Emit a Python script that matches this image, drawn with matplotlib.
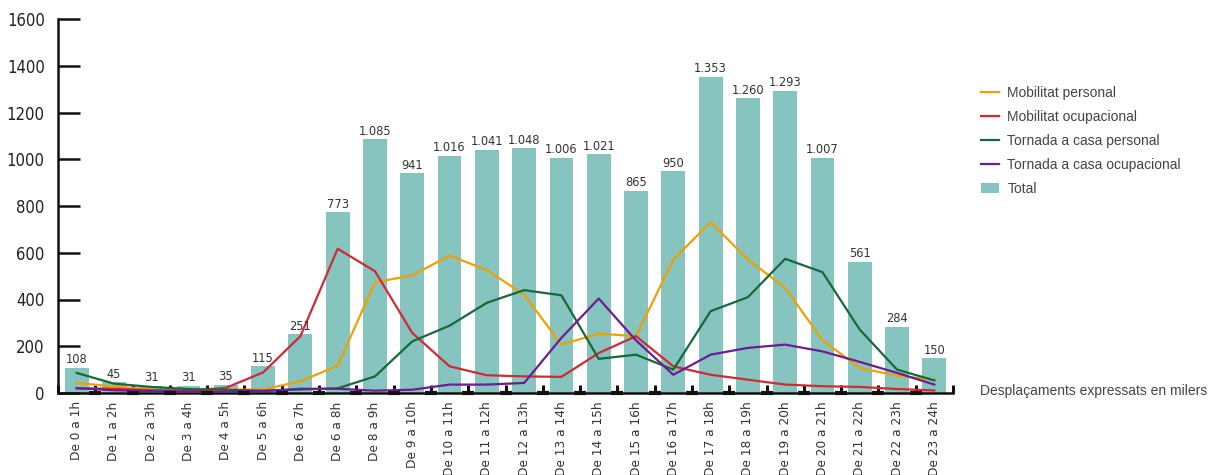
import matplotlib
matplotlib.use("Agg")
import matplotlib.pyplot as plt
import numpy as np
from matplotlib.patches import Patch
from matplotlib.lines import Line2D

categories = ["De 0 a 1h", "De 1 a 2h", "De 2 a 3h", "De 3 a 4h", "De 4 a 5h", "De 5 a 6h",
              "De 6 a 7h", "De 6 a 8h", "De 8 a 9h", "De 9 a 10h", "De 10 a 11h", "De 11 a 12h",
              "De 12 a 13h", "De 13 a 14h", "De 14 a 15h", "De 15 a 16h", "De 16 a 17h",
              "De 17 a 18h", "De 18 a 19h", "De 19 a 20h", "De 20 a 21h", "De 21 a 22h",
              "De 22 a 23h", "De 23 a 24h"]
total = [108, 45, 31, 31, 35, 115, 251, 773, 1085, 941, 1016, 1041, 1048, 1006, 1021, 865,
         950, 1353, 1260, 1293, 1007, 561, 284, 150]
mobilitat_personal = [43, 28, 15, 11, 14, 15, 50, 117, 474, 503, 588, 526, 421, 207, 254, 243,
                      571, 731, 571, 450, 226, 107, 74, 57]
mobilitat_ocupacional = [21, 18, 12, 10, 22, 88, 243, 617, 521, 257, 114, 76, 71, 69, 171, 243,
                         114, 78, 57, 36, 29, 26, 17, 11]
tornada_personal = [86, 40, 26, 17, 14, 10, 15, 20, 71, 221, 288, 386, 440, 418, 146, 164,
                    100, 350, 410, 574, 517, 271, 100, 54]
tornada_ocupacional = [20, 12, 8, 6, 6, 8, 18, 18, 10, 14, 36, 36, 43, 236, 404, 225,
                       78, 164, 193, 207, 178, 133, 86, 36]
yticks = [0, 200, 400, 600, 800, 1000, 1200, 1400, 1600]

series_names = ["Mobilitat personal", "Mobilitat ocupacional", "Tornada a casa personal",
                "Tornada a casa ocupacional"]
series_vals = [mobilitat_personal, mobilitat_ocupacional, tornada_personal, tornada_ocupacional]
series_cols = ["#F0A000", "#D02A35", "#17693A", "#6B1E92"]
bar_col = "#86C4BF"

narrow = dict(family=["DejaVu Sans"], stretch="condensed")
plt.rcParams["font.family"] = ["Liberation Sans", "DejaVu Sans"]

fig = plt.figure(figsize=(12.16, 4.75), dpi=100)
ax = fig.add_axes([58/1216, 82/475, (953-58)/1216, (393.3-19.3)/475])

x = np.arange(len(categories))
bars = ax.bar(x, total, width=0.64, color=bar_col, zorder=1)
labels = [f"{v:,}".replace(",", ".") for v in total]
ax.bar_label(bars, labels=labels, padding=1, fontsize=9.2, color="#333333", zorder=4, **narrow)

for name, vals, col in zip(series_names, series_vals, series_cols):
    ax.plot(x, vals, color=col, lw=1.6, zorder=3, label=name)

ax.set_xlim(-0.5, len(categories) - 0.5)
ax.set_ylim(0, 1600)
ax.set_yticks(yticks)
ax.set_yticklabels([str(t) for t in yticks], fontsize=12, color="#222222", **narrow)
ax.tick_params(axis="y", direction="in", length=15.8, width=1.8, pad=9.5, color="#111111")

ax.set_xticks(x)
ax.set_xticklabels(categories, rotation=90, fontsize=9.7, color="#333333", **narrow)
ax.tick_params(axis="x", which="major", length=0, pad=6)
bounds = np.arange(len(categories) + 1) - 0.5
ax.set_xticks(bounds, minor=True)
ax.tick_params(axis="x", which="minor", direction="in", length=6, width=2.2, color="#111111")
inner = bounds[1:-1]
ax.plot(inner, np.zeros(len(inner)), ls="none", marker="_", ms=9, mew=3, color="#111111",
        clip_on=False, zorder=5)

for s in ["top", "right"]:
    ax.spines[s].set_visible(False)
for s in ["left", "bottom"]:
    ax.spines[s].set_linewidth(1.8)
    ax.spines[s].set_color("#111111")

handles = [Line2D([0], [0], color=c, lw=1.6) for c in series_cols] + \
          [Patch(facecolor=bar_col, edgecolor="none")]
fig.legend(handles, series_names + ["Total"], loc="upper left",
           bbox_to_anchor=(981/1216, 1 - 86/475), frameon=False, fontsize=10,
           handlelength=1.3, handletextpad=0.6, labelspacing=0.72, borderpad=0,
           borderaxespad=0, labelcolor="#444444")

fig.text(980/1216, 1 - 391/475, "Desplaçaments expressats en milers", fontsize=10,
         color="#444444", va="center", ha="left")

fig.savefig("out.png", dpi=100, facecolor="white")
